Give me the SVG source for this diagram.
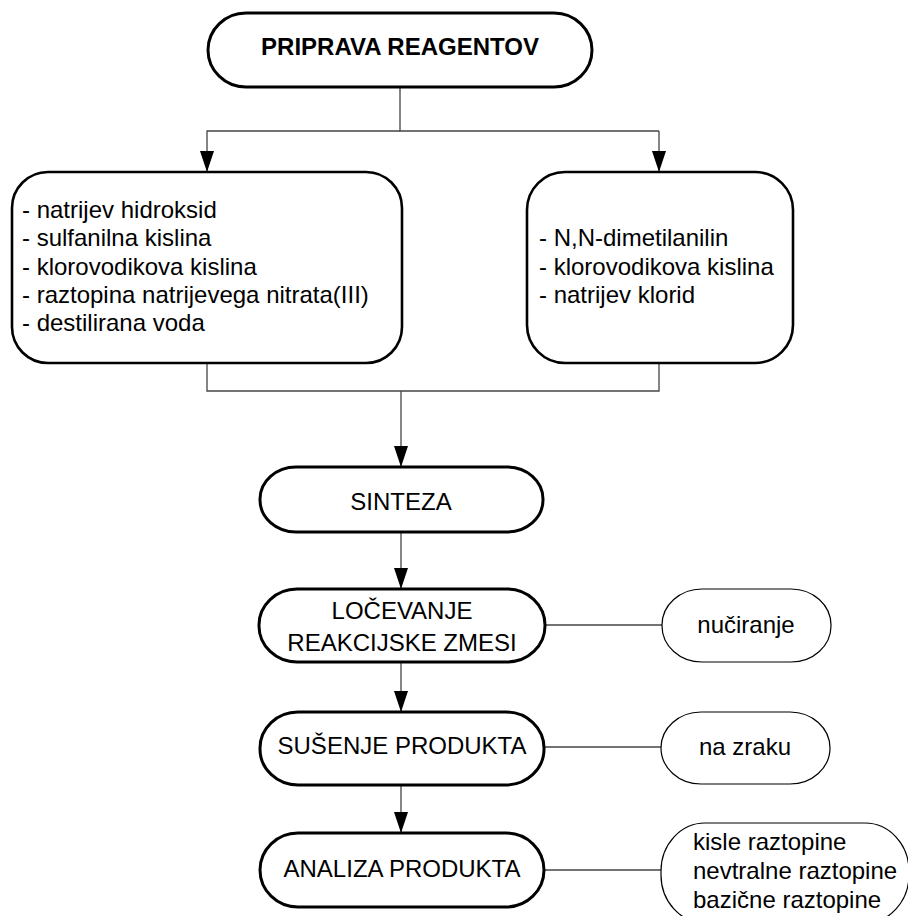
<svg xmlns="http://www.w3.org/2000/svg" width="908" height="916" viewBox="0 0 908 916">
<style>
text{font-family:"Liberation Sans",Arial,sans-serif;font-size:24px;fill:#000}
.title{font-weight:bold}
.c{text-anchor:middle}
.main{fill:#fff;stroke:#000;stroke-width:3}
.reag{fill:#fff;stroke:#000;stroke-width:2.6}
.side{fill:#fff;stroke:#000;stroke-width:1.2}
.conn{fill:none;stroke:#444;stroke-width:1.3}
</style>
<defs>
<marker id="arr" markerUnits="userSpaceOnUse" viewBox="0 0 21 14" markerWidth="21" markerHeight="14" refX="21" refY="7" orient="auto">
<path d="M0,0 L21,7 L0,14 z" fill="#000"/>
</marker>
</defs>
<g id="connectors">
<path class="conn" d="M400,87 V131 H659"/>
<path class="conn" d="M400,131 H207 V172" marker-end="url(#arr)"/>
<path class="conn" d="M659,131 V172" marker-end="url(#arr)"/>
<path class="conn" d="M207,363 V391 H659 V363"/>
<path class="conn" d="M401,391 V467" marker-end="url(#arr)"/>
<path class="conn" d="M401,532 V589" marker-end="url(#arr)"/>
<path class="conn" d="M401,662 V712" marker-end="url(#arr)"/>
<path class="conn" d="M401,785 V833" marker-end="url(#arr)"/>
<path class="conn" d="M545,625 H662"/>
<path class="conn" d="M545,747 H661"/>
<path class="conn" d="M545,870 H661"/>
</g>
<g id="priprava">
<rect class="main" x="208" y="13" width="384" height="74" rx="38" ry="37"/>
<text class="title c" x="400" y="55">PRIPRAVA REAGENTOV</text>
</g>
<g id="reagenti-levo">
<rect class="reag" x="12" y="172" width="390" height="191" rx="36" ry="36"/>
<text x="22" y="218">- natrijev hidroksid</text>
<text x="22" y="246.3">- sulfanilna kislina</text>
<text x="22" y="274.6">- klorovodikova kislina</text>
<text x="22" y="302.9">- raztopina natrijevega nitrata(III)</text>
<text x="22" y="331.2">- destilirana voda</text>
</g>
<g id="reagenti-desno">
<rect class="reag" x="527" y="172" width="266" height="191" rx="38" ry="38"/>
<text x="539" y="246">- N,N-dimetilanilin</text>
<text x="539" y="274.5">- klorovodikova kislina</text>
<text x="539" y="303">- natrijev klorid</text>
</g>
<g id="sinteza">
<rect class="main" x="260" y="467" width="283" height="65" rx="36" ry="32"/>
<text class="c" x="401" y="510">SINTEZA</text>
</g>
<g id="locevanje">
<rect class="main" x="259" y="589" width="286" height="73" rx="38" ry="36"/>
<text class="c" x="402" y="619">LOČEVANJE</text>
<text class="c" x="402" y="651">REAKCIJSKE ZMESI</text>
</g>
<g id="nuciranje">
<rect class="side" x="662" y="589" width="169" height="73" rx="40" ry="36"/>
<text class="c" x="746" y="633">nučiranje</text>
</g>
<g id="susenje">
<rect class="main" x="260" y="712" width="284" height="73" rx="38" ry="36"/>
<text class="c" x="402" y="754">SUŠENJE PRODUKTA</text>
</g>
<g id="na-zraku">
<rect class="side" x="661" y="712" width="169" height="72" rx="40" ry="36"/>
<text class="c" x="745" y="755">na zraku</text>
</g>
<g id="analiza">
<rect class="main" x="260" y="833" width="284" height="74" rx="38" ry="37"/>
<text class="c" x="402" y="877">ANALIZA PRODUKTA</text>
</g>
<g id="raztopine">
<rect class="side" x="661" y="823" width="248" height="100" rx="44" ry="48"/>
<text x="693" y="850">kisle raztopine</text>
<text x="693" y="879">nevtralne raztopine</text>
<text x="693" y="908">bazične raztopine</text>
</g>
</svg>
